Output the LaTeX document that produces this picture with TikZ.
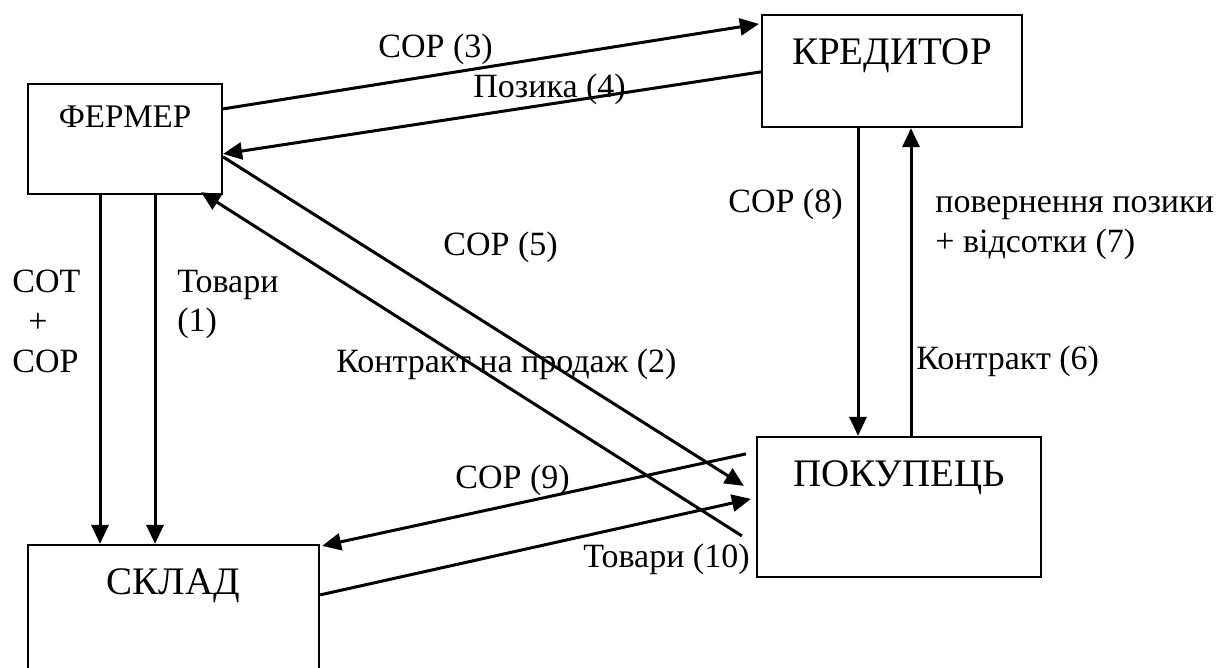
\documentclass[tikz,border=0pt]{standalone}
\usepackage{fontspec}
\setmainfont{Liberation Serif}
\usetikzlibrary{arrows.meta}
\begin{document}
\begin{tikzpicture}[x=0.5pt,y=-0.5pt,
  box/.style={draw,line width=1.1pt,rectangle,inner sep=0pt},
  boxtitle/.style={anchor=base,inner sep=0pt,font=\fontsize{19.5}{23}\selectfont},
  lbl/.style={anchor=base west,inner sep=0pt,font=\fontsize{17}{20}\selectfont},
  arr/.style={line width=1.5pt,-{Triangle[length=9.5pt,width=8.5pt]}}]
\useasboundingbox (0,0) rectangle (1216,668);
\clip (0,0) rectangle (1216,668);

% participants
\node[box,minimum width=97pt,minimum height=55pt] (farmer) at (125,139) {};
\node[box,minimum width=130pt,minimum height=56pt] (kred) at (892,71) {};
\node[box,minimum width=142pt,minimum height=70pt] (buyer) at (899,507) {};
\node[box,minimum width=145.5pt,minimum height=77.5pt] (sklad) at (173.5,622.5) {};

\node[boxtitle,font=\fontsize{16.5}{20}\selectfont] (farmerT) at (125,128) {ФЕРМЕР};
\node[boxtitle] (kredT) at (892,65) {КРЕДИТОР};
\node[boxtitle] (buyerT) at (899,486) {ПОКУПЕЦЬ};
\node[boxtitle] (skladT) at (173.5,594) {СКЛАД};

% farmer -> warehouse
\draw[arr] ([xshift=-12.5pt]farmer.south) -- ([xshift=-12.5pt]farmer.south |- sklad.north);
\draw[arr] ([xshift=15pt]farmer.south) -- ([xshift=15pt]farmer.south |- sklad.north);

% farmer <-> creditor
\draw[arr] ([yshift=-13pt]farmer.north east) -- ([xshift=-1pt,yshift=-5pt]kred.north west);
\draw[arr] ([yshift=-29pt]kred.north west) -- ([yshift=-35.5pt]farmer.north east);

% farmer <-> buyer
\draw[arr] ([yshift=-37pt]farmer.north east) -- ([xshift=-6pt,yshift=-25pt]buyer.north west);
\draw[arr] ([xshift=-7pt,yshift=-50pt]buyer.north west) -- ([xshift=-11pt,yshift=1.5pt]farmer.south east);

% warehouse <-> buyer
\draw[arr] ([xshift=-5pt,yshift=-9pt]buyer.north west) -- ([xshift=1pt,yshift=-1pt]sklad.north east);
\draw[arr] ([yshift=-25.5pt]sklad.north east) -- ([xshift=-2.5pt,yshift=-31.5pt]buyer.north west);

% creditor <-> buyer
\draw[arr] ([xshift=-17pt]kred.south) -- ([xshift=-17pt]kred.south |- buyer.north);
\draw[arr] ([xshift=6pt]buyer.north) -- ([xshift=6pt]buyer.north |- kred.south);

% flow labels
\node[lbl] (l3) at (378,58) {СОР (3)};
\node[lbl] (l4) at (473,98) {Позика (4)};
\node[lbl,anchor=base east] (l8) at (843,213) {СОР (8)};
\node[lbl] (l7a) at (935,213) {повернення позики};
\node[lbl] (l7b) at (935,253) {+ відсотки (7)};
\node[lbl] (l6) at (916,370) {Контракт (6)};
\node[lbl] (l5) at (443,256) {СОР (5)};
\node[lbl] (l2) at (336,372) {Контракт на продаж (2)};
\node[lbl] (lcot) at (12,293) {СОТ};
\node[lbl,anchor=base] (lplus) at (38,333) {+};
\node[lbl] (lcop) at (12,372) {СОР};
\node[lbl] (l1a) at (177,293) {Товари};
\node[lbl] (l1b) at (177,332) {(1)};
\node[lbl] (l9) at (455,488) {СОР (9)};
\node[lbl] (l10) at (583,567) {Товари (10)};
\end{tikzpicture}
\end{document}
